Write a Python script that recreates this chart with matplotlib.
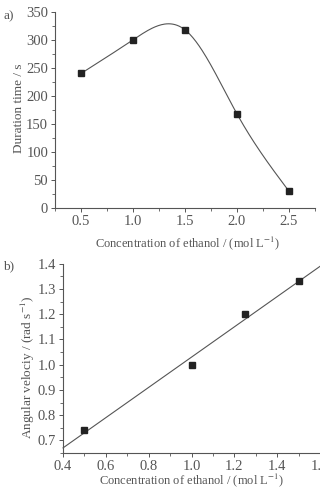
import numpy as np
import matplotlib
matplotlib.use('Agg')
import matplotlib.pyplot as plt
from matplotlib.ticker import MultipleLocator

plt.rcParams['font.family'] = ['Liberation Serif', 'DejaVu Serif']
plt.rcParams['mathtext.fontset'] = 'stix'

# data panel a)
conc_a = [0.5, 1.0, 1.5, 2.0, 2.5]
duration = [240, 300, 318, 168, 30]

# data panel b)
conc_b = [0.5, 1.0, 1.25, 1.5]
ang_vel = [0.74, 1.0, 1.2, 1.33]

TXT = '#555555'
LINE = '#555555'


def natural_spline(x, y, xs):
    # natural cubic spline through the points (smooth connecting line)
    x = np.asarray(x, float)
    y = np.asarray(y, float)
    n = len(x)
    h = np.diff(x)
    A = np.zeros((n, n))
    b = np.zeros(n)
    A[0, 0] = A[-1, -1] = 1
    for i in range(1, n - 1):
        A[i, i - 1] = h[i - 1]
        A[i, i] = 2 * (h[i - 1] + h[i])
        A[i, i + 1] = h[i]
        b[i] = 3 * ((y[i + 1] - y[i]) / h[i] - (y[i] - y[i - 1]) / h[i - 1])
    c = np.linalg.solve(A, b)
    out = np.empty_like(xs)
    for k, xv in enumerate(xs):
        i = min(max(np.searchsorted(x, xv) - 1, 0), n - 2)
        dx = xv - x[i]
        bi = (y[i + 1] - y[i]) / h[i] - h[i] * (2 * c[i] + c[i + 1]) / 3
        di = (c[i + 1] - c[i]) / (3 * h[i])
        out[k] = y[i] + bi * dx + c[i] * dx ** 2 + di * dx ** 3
    return out


def style(ax):
    for s in ['top', 'right']:
        ax.spines[s].set_visible(False)
    for s in ['left', 'bottom']:
        ax.spines[s].set_color(LINE)
        ax.spines[s].set_linewidth(0.8)
    ax.tick_params(which='both', direction='out', colors=LINE, labelcolor=TXT, labelsize=10.5, pad=2)
    ax.tick_params(which='major', length=3, width=0.7)
    ax.tick_params(which='minor', length=2, width=0.6)


fig = plt.figure(figsize=(3.2, 4.95), dpi=100)

ax1 = fig.add_axes([0.172, 0.580, 0.812, 0.396])
xs = np.linspace(conc_a[0], conc_a[-1], 200)
ax1.plot(xs, natural_spline(conc_a, duration, xs), color=LINE, lw=0.8)
ax1.plot(conc_a, duration, 's', color='#222222', ms=4)
ax1.set_xlim(0.25, 2.75)
ax1.set_ylim(0, 350)
ax1.xaxis.set_minor_locator(MultipleLocator(0.25))
ax1.yaxis.set_major_locator(MultipleLocator(50))
ax1.yaxis.set_minor_locator(MultipleLocator(25))
ax1.set_xticks([0.5, 1.0, 1.5, 2.0, 2.5])
ax1.set_xticklabels(['0.5', '1.0', '1.5', '2.0', '2.5'])
style(ax1)
ax1.set_xlabel('Concentration of ethanol / (mol L$^{-1}$)', color=TXT, fontsize=9)
ax1.set_ylabel('Duration time / s', color=TXT, fontsize=9.5)
ax1.xaxis.set_label_coords(0.51, -0.135)
ax1.yaxis.set_label_coords(-0.115, 0.51)
fig.text(0.01, 0.962, 'a)', color=TXT, fontsize=9.5)

ax2 = fig.add_axes([0.197, 0.085, 0.803, 0.382])
fit = np.polyfit(conc_b, ang_vel, 1)
xl = np.array([0.4, 1.6])
ax2.plot(xl, np.polyval(fit, xl), color=LINE, lw=0.8, clip_on=False)
ax2.plot(conc_b, ang_vel, 's', color='#222222', ms=4)
ax2.set_xlim(0.4, 1.6)
ax2.set_ylim(0.65, 1.4)
ax2.xaxis.set_major_locator(MultipleLocator(0.2))
ax2.xaxis.set_minor_locator(MultipleLocator(0.1))
ax2.set_yticks([0.7, 0.8, 0.9, 1.0, 1.1, 1.2, 1.3, 1.4])
ax2.yaxis.set_minor_locator(MultipleLocator(0.05))
ax2.xaxis.set_major_formatter(plt.FormatStrFormatter('%.1f'))
ax2.yaxis.set_major_formatter(plt.FormatStrFormatter('%.1f'))
style(ax2)
ax2.set_xlabel('Concentration of ethanol / (mol L$^{-1}$)', color=TXT, fontsize=9)
ax2.set_ylabel('Angular velociy / (rad s$^{-1}$)', color=TXT, fontsize=9.5)
ax2.xaxis.set_label_coords(0.5, -0.10)
ax2.yaxis.set_label_coords(-0.10, 0.455)
fig.text(0.01, 0.455, 'b)', color=TXT, fontsize=9.5)

fig.savefig('out.png', dpi=100)
